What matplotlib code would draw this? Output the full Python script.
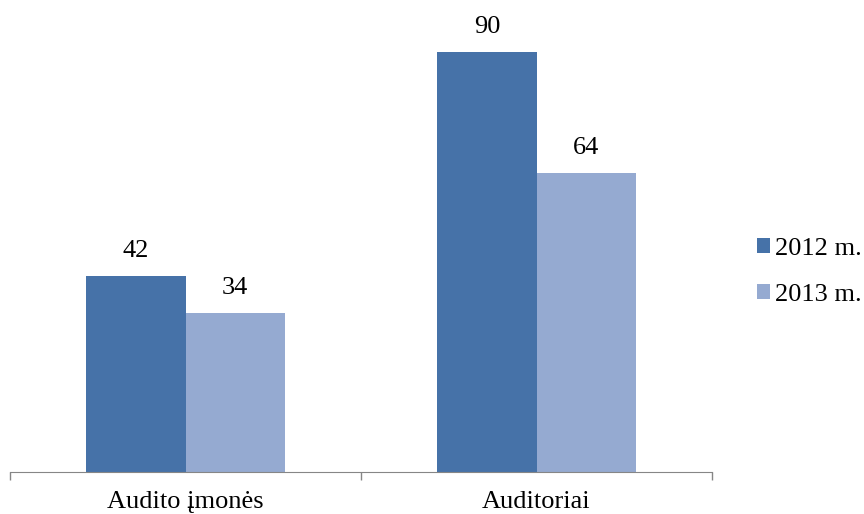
import numpy as np
import matplotlib.pyplot as plt

categories = ["Audito įmonės", "Auditoriai"]
years = ["2012 m.", "2013 m."]
values_2012 = [42, 90]
values_2013 = [34, 64]
colors = ["#4672A8", "#95AAD1"]

plt.rcParams['font.family'] = ['Liberation Serif', 'DejaVu Serif']

fig = plt.figure(figsize=(8.64, 5.14), dpi=100)
ax = fig.add_axes([10 / 864, 42 / 514, 702 / 864, 467 / 514])

x = np.arange(len(categories))
w = 0.283
series = [values_2012, values_2013]
for i, vals in enumerate(series):
    pos = x + (i - 0.5) * w
    bars = ax.bar(pos, vals, width=w, color=colors[i], label=years[i])
    for b, v in zip(bars, vals):
        ax.annotate(str(v), (b.get_x() + b.get_width() / 2, v),
                    xytext=(0, 10), textcoords="offset points",
                    ha="center", va="bottom", fontsize=19)

ax.set_xlim(-0.5, 1.5)
ax.set_ylim(0, 100)
ax.set_xticks([-0.5, 0.5, 1.5])
ax.set_xticklabels([])
ax.set_xticks(x, minor=True)
ax.set_xticklabels(categories, minor=True, fontsize=19)
ax.tick_params(axis="x", which="major", length=6, color="#868686", width=1)
ax.tick_params(axis="x", which="minor", length=0, pad=14)
ax.set_yticks([])
for s in ["top", "right", "left"]:
    ax.spines[s].set_visible(False)
ax.spines["bottom"].set_color("#868686")

leg = fig.legend(loc="center left", bbox_to_anchor=(757 / 864, 1 - 272 / 514),
                 frameon=False, fontsize=19, handlelength=0.5, handleheight=0.5,
                 handletextpad=0.2, labelspacing=0.9, borderpad=0,
                 borderaxespad=0)

fig.savefig("out.png", dpi=100)
